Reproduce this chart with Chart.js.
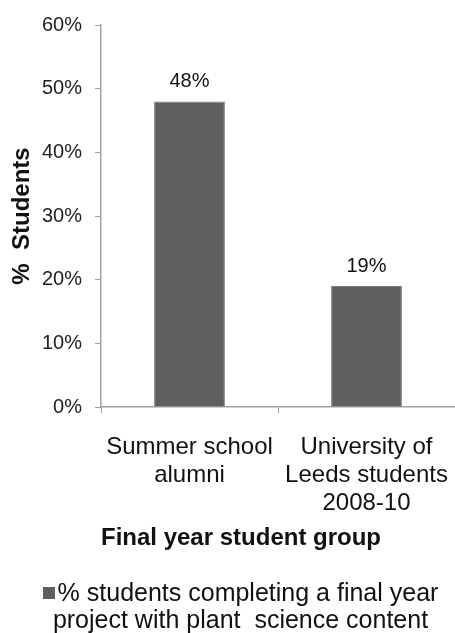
<!DOCTYPE html>
<html>
<head>
<meta charset="utf-8">
<script src="https://cdn.jsdelivr.net/npm/chart.js@4"></script>
<style>
  html, body { margin: 0; padding: 0; background: #fff; }
  #wrap { position: relative; width: 455px; height: 633px; }
  #leyenda {
    position: absolute; left: 26px; width: 429px; top: 579px;
    text-align: center; font-family: "Liberation Sans", Arial, sans-serif;
    font-size: 25px; line-height: 27px; color: #111; white-space: pre-wrap;
  }
  #leyenda .cuadro { display: inline-block; width: 12px; height: 12px; background: #5f5f5f; margin-right: 3px; vertical-align: 2px; }
</style>
</head>
<body>
<div id="wrap">
  <canvas id="myChart" width="455" height="633"></canvas>
  <div id="leyenda"></div>
</div>
<script>
// datos del grafico
const categorias = [
    ["Summer school", "alumni"],
    ["University of", "Leeds students", "2008-10"]
];
const porcentajes = [48, 19];
const etiquetaSerie = "% students completing a final year project with plant  science content";
const ticksY = [0, 10, 20, 30, 40, 50, 60];

const fuente = "'Liberation Sans', Arial, sans-serif";

// leyenda en html (texto en dos lineas)
document.getElementById("leyenda").innerHTML =
    '<span class="cuadro"></span>' + etiquetaSerie.replace(" project", "\nproject");

// plugin para poner los valores encima de las barras
const etiquetasValor = {
    id: "etiquetasValor",
    afterDatasetsDraw(chart) {
        const ctx = chart.ctx;
        ctx.save();
        ctx.font = "20px " + fuente;
        ctx.fillStyle = "#111";
        ctx.textAlign = "center";
        ctx.textBaseline = "middle";
        chart.getDatasetMeta(0).data.forEach((bar, i) => {
            ctx.fillText(porcentajes[i] + "%", bar.x, bar.y - 20);
        });
        ctx.restore();
    }
};

let mychart = document.getElementById("myChart").getContext("2d");

var chart = new Chart(mychart, {
    type: "bar",
    data: {
        labels: categorias,
        datasets: [{
            label: etiquetaSerie,
            data: porcentajes,
            backgroundColor: "#5f5f5f",
            borderColor: "#7d7d7d",
            borderWidth: 1,
            barPercentage: 0.4,
            categoryPercentage: 1
        }]
    },
    options: {
        responsive: false,
        animation: false,
        layout: { padding: { top: 20, right: 0, bottom: 0, left: 0 } },
        scales: {
            x: {
                // el eje llega hasta el borde derecho como en el original
                afterFit: s => { s.height = 226; s.paddingLeft = 0; s.paddingRight = 0; },
                grid: { display: true, drawOnChartArea: false, color: "#a0a0a0", tickLength: 6 },
                border: { display: true, color: "#a0a0a0", width: 1.5 },
                ticks: {
                    color: "#111",
                    padding: 20,
                    maxRotation: 0,
                    font: { family: fuente, size: 24, lineHeight: 1.17 }
                },
                title: {
                    display: true,
                    text: "Final year student group",
                    align: "start",
                    color: "#111",
                    padding: { top: 0, bottom: 80 },
                    font: { family: fuente, size: 24, weight: "bold" }
                }
            },
            y: {
                min: 0,
                max: 60,
                afterFit: s => { s.width = 101; },
                afterBuildTicks: s => { s.ticks = ticksY.map(v => ({ value: v })); },
                grid: { display: true, drawOnChartArea: false, color: "#a0a0a0", tickLength: 6 },
                border: { display: true, color: "#a0a0a0", width: 1.5 },
                ticks: {
                    color: "#222",
                    padding: 13,
                    font: { family: fuente, size: 20 },
                    callback: v => v + "%"
                },
                title: {
                    display: true,
                    text: "%  Students",
                    color: "#111",
                    padding: { top: 8, bottom: 0 },
                    font: { family: fuente, size: 24, weight: "bold" }
                }
            }
        },
        plugins: {
            legend: { display: false },
            tooltip: { enabled: false }
        }
    },
    plugins: [etiquetasValor]
});
</script>
</body>
</html>
